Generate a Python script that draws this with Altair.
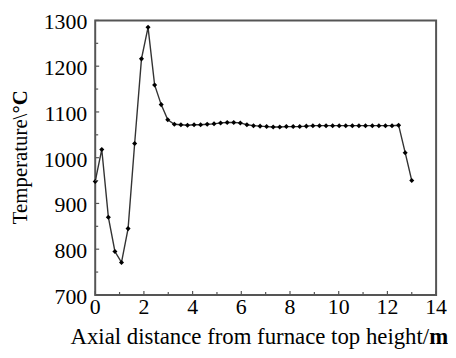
import altair as alt
import pandas as pd

# ---- data ----
distance_m = [0.0, 0.27, 0.54, 0.81, 1.08, 1.35, 1.62, 1.9, 2.17, 2.44, 2.71, 2.98,
              3.25, 3.52, 3.79, 4.06, 4.33, 4.6, 4.88, 5.15, 5.42, 5.69, 5.96, 6.23,
              6.5, 6.77, 7.04, 7.31, 7.58, 7.85, 8.13, 8.4, 8.67, 8.94, 9.21, 9.48,
              9.75, 10.02, 10.29, 10.56, 10.83, 11.1, 11.38, 11.65, 11.92, 12.19,
              12.46, 12.73, 13.0]
temperature_c = [948, 1018, 870, 795, 771, 845, 1031, 1216, 1285, 1159, 1116, 1083,
                 1073, 1072, 1071, 1072, 1072, 1073, 1074, 1076, 1077, 1077, 1076, 1072,
                 1070, 1069, 1068, 1067, 1067, 1068, 1068, 1068, 1069, 1070, 1070, 1070,
                 1070, 1070, 1070, 1070, 1070, 1070, 1070, 1070, 1070, 1070,
                 1071, 1011, 950]

x_major = [0, 2, 4, 6, 8, 10, 12, 14]
x_minor = [1, 3, 5, 7, 9, 11, 13]
y_major = [700, 800, 900, 1000, 1100, 1200, 1300]
y_minor = [750, 850, 950, 1050, 1150, 1250]

x_title_plain = ["Axial distance from furnace top height/"]
x_title_bold = ["m"]
y_title_plain = ["Temperature\\"]
y_title_bold = ["°C"]

FONT = "Liberation Serif"
W, H = 344, 277
FRAME = "#555555"

xscale = alt.Scale(domain=[0, 14], nice=False, zero=False)
yscale = alt.Scale(domain=[700, 1300], nice=False, zero=False)

df = pd.DataFrame({"x": distance_m, "y": temperature_c})

X = alt.X("x:Q", scale=xscale, axis=None)
Y = alt.Y("y:Q", scale=yscale, axis=None)

line = alt.Chart(df).mark_line(color="#333333", strokeWidth=1.4).encode(x=X, y=Y)
points = alt.Chart(df).mark_point(shape="diamond", filled=True, color="black",
                                  size=26, opacity=1).encode(x=X, y=Y)

def xticks(vals, length):
    return alt.Chart(pd.DataFrame({"x": vals})).mark_rule(color=FRAME, strokeWidth=1.2).encode(
        x=X, y=alt.value(H), y2=alt.value(H - length),
    )

def yticks(vals, length):
    return alt.Chart(pd.DataFrame({"y": vals})).mark_rule(color=FRAME, strokeWidth=1.2).encode(
        y=Y, x=alt.value(0), x2=alt.value(length),
    )

x_labels = alt.Chart(pd.DataFrame({"x": x_major})).mark_text(
    align="center", baseline="alphabetic", font=FONT, fontSize=22, color="black"
).encode(x=X, y=alt.value(H + 19), text=alt.Text("x:Q", format="d"))

y_labels = alt.Chart(pd.DataFrame({"y": y_major})).mark_text(
    align="right", baseline="alphabetic", font=FONT, fontSize=22, color="black", dy=9
).encode(y=Y, x=alt.value(-8), text=alt.Text("y:Q", format="d"))

def label(texts, x, y, align, size, bold=False, angle=0):
    kw = dict(align=align, baseline="alphabetic", font=FONT, fontSize=size, color="black",
              fontWeight="bold" if bold else "normal")
    if angle:
        kw["angle"] = angle
    return alt.Chart(pd.DataFrame({"t": texts})).mark_text(**kw).encode(
        text="t:N", x=alt.value(x), y=alt.value(y))

chart = alt.layer(
    line, points,
    xticks(x_major, 4), xticks(x_minor, 3), yticks(y_major, 4), yticks(y_minor, 3),
    x_labels, y_labels,
    label(x_title_plain, 337, 326, "right", 23),
    label(x_title_bold, 337, 326, "left", 23, bold=True),
    label(y_title_plain, -69, 94, "right", 21, angle=270),
    label(y_title_bold, -69, 94, "left", 21, bold=True, angle=270),
).properties(
    width=W, height=H,
    padding={"left": 88, "top": 11, "right": 12, "bottom": 54},
    autosize=alt.AutoSizeParams(type="none"),
    background="white",
).configure_view(stroke=FRAME, strokeWidth=2)

chart.save("out.html", embed_options={"renderer": "svg", "actions": False})
